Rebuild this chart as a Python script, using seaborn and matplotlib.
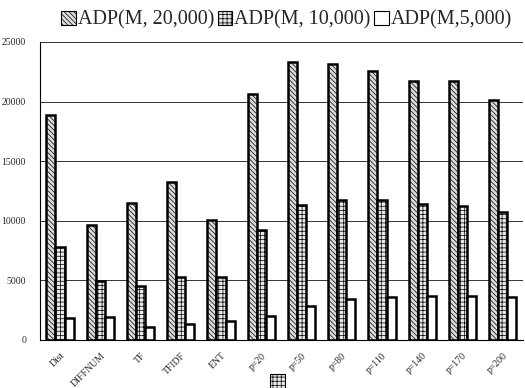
import seaborn as sns
import matplotlib.pyplot as plt
import matplotlib as mpl
import pandas as pd
from matplotlib.patches import Rectangle

methods = ["Dist", "DIFFNUM", "TF", "TFIDF", "ENT", "p=20", "p=50", "p=80",
           "p=110", "p=140", "p=170", "p=200"]
series = ["ADP(M, 20,000)", "ADP(M, 10,000)", "ADP(M,5,000)"]
adp_20000 = [18900, 9600, 11500, 13250, 10100, 20600, 23330, 23150, 22600, 21750, 21750, 20150]
adp_10000 = [7830, 4920, 4500, 5250, 5250, 9250, 11330, 11700, 11700, 11400, 11250, 10750]
adp_5000 = [1800, 1950, 1100, 1300, 1550, 2000, 2850, 3400, 3580, 3670, 3670, 3600]

rows = []
for name, vals in zip(series, [adp_20000, adp_10000, adp_5000]):
    for m, v in zip(methods, vals):
        rows.append({"method": m, "series": name, "value": v})
data = pd.DataFrame(rows)

sns.set_style("white")
mpl.rcParams['font.family'] = ['Liberation Serif', 'DejaVu Serif']
mpl.rcParams['hatch.linewidth'] = 0.5

fig = plt.figure(figsize=(5.25, 3.88), dpi=100)
ax = fig.add_axes([0.076, 0.124, 0.92, 0.768])

sns.barplot(data=data, x="method", y="value", hue="series", order=methods,
            hue_order=series, palette=["white", "white", "white"],
            edgecolor="black", linewidth=1.8, width=0.68, ax=ax, legend=False)

hatches = ["\\\\\\\\\\\\\\", "++++", ""]
fills = ["#dcdcdc", "#e8e8e8", "white"]
for cont, h, fc in zip(ax.containers, hatches, fills):
    for bar in cont:
        bar.set_hatch(h)
        bar.set_facecolor(fc)

ax.set_ylim(0, 25000)
ax.set_xlim(-0.5, len(methods) - 0.5)
ax.set_yticks(range(0, 25001, 5000))
ax.yaxis.grid(True, color="#333333", linewidth=0.7)
ax.set_axisbelow(True)
for side in ["top", "right"]:
    ax.spines[side].set_visible(False)
ax.spines["left"].set_color("black")
ax.spines["bottom"].set_color("black")
ax.spines["left"].set_linewidth(0.8)
ax.spines["bottom"].set_linewidth(0.8)
ax.tick_params(axis="y", labelsize=7, length=0, pad=10)
ax.tick_params(axis="x", labelsize=7, length=0, pad=8)
plt.setp(ax.get_xticklabels(), rotation=45, ha="right", rotation_mode="anchor")
ax.set_xlabel("")
ax.set_ylabel("")

handles = [Rectangle((0, 0), 1, 1, facecolor=fc, edgecolor="black", hatch=h,
                     linewidth=0.8) for h, fc in zip(hatches, fills)]
fig.legend(handles, series, loc="center", bbox_to_anchor=(0.546, 0.948),
           ncol=3, frameon=False, fontsize=14.5, handlelength=0.7,
           handleheight=0.7, handletextpad=0.1, columnspacing=0.2,
           borderpad=0, borderaxespad=0)

# partially visible box at the bottom edge
fig.patches.append(Rectangle((0.515, 0.0), 0.027, 0.035, transform=fig.transFigure,
                             facecolor="#e8e8e8", edgecolor="black", hatch="++++",
                             linewidth=0.8))

plt.savefig("out.png", dpi=100)
